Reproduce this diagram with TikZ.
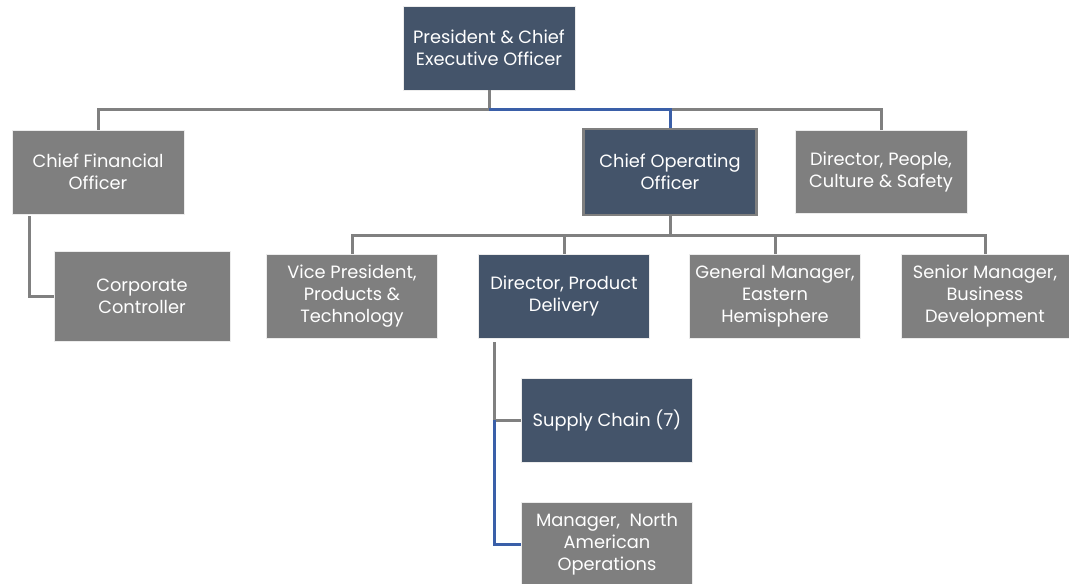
\documentclass[tikz,border=0pt]{standalone}
\usepackage{fontspec}
\setmainfont{Poppins}
\definecolor{navy}{HTML}{44546A}
\definecolor{boxgray}{HTML}{7F7F7F}
\definecolor{linegray}{HTML}{808080}
\definecolor{lineblue}{HTML}{3A5FA8}
\begin{document}
\begin{tikzpicture}[x=1pt,y=-1pt,
  box/.style={rectangle, inner sep=0pt, text=white, align=center,
    font=\fontsize{17.8}{22}\selectfont, draw=white!85!boxgray, line width=0.6pt},
  navybox/.style={box, fill=navy},
  graybox/.style={box, fill=boxgray},
  conn/.style={draw=linegray, line width=3pt},
  bconn/.style={draw=lineblue, line width=3pt}]
\useasboundingbox (0,0) rectangle (1069,584);
% nodes
\node[navybox, minimum width=172pt, minimum height=84pt] (ceo) at (489,48) {President \& Chief\\Executive Officer};
\node[graybox, minimum width=172pt, minimum height=84pt] (cfo) at (98,172) {Chief Financial\\Officer};
\node[navybox, minimum width=173pt, minimum height=86pt, draw=boxgray, line width=2.5pt] (coo) at (670,172) {Chief Operating\\Officer};
\node[graybox, minimum width=172pt, minimum height=83pt] (dpcs) at (881,172) {Director, People,\\Culture \& Safety};
\node[graybox, minimum width=176pt, minimum height=90pt] (ctrl) at (142,296) {Corporate\\Controller};
\node[graybox, minimum width=171pt, minimum height=84pt] (vp) at (352,296) {Vice President,\\Products \&\\Technology};
\node[navybox, minimum width=171pt, minimum height=84pt] (dpd) at (564,296) {Director, Product\\Delivery};
\node[graybox, minimum width=171pt, minimum height=84pt] (gm) at (775,296) {General Manager,\\Eastern\\Hemisphere};
\node[graybox, minimum width=168pt, minimum height=84pt] (sm) at (985,296) {Senior Manager,\\Business\\Development};
\node[navybox, minimum width=171pt, minimum height=84pt] (sc) at (607,420) {Supply Chain (7)};
\node[graybox, minimum width=171pt, minimum height=84pt] (mna) at (607,544) {Manager,\ \ North\\American\\Operations};
% bus coordinates
\coordinate (bus1) at (489,109);
\coordinate (bus2) at (670,109);
\coordinate (bus3) at (670,235);
\coordinate (c1) at (29,216);
\coordinate (d1) at (494,342);
% connectors
\draw[conn] (ceo.south) -- (bus1);
\draw[conn] (cfo.north) |- (bus1);
\draw[conn] (dpcs.north) |- (bus2);
\draw[bconn] (bus1) -| (coo.north);
\draw[conn] (coo.south) -- (bus3);
\draw[conn] (vp.north) |- (bus3);
\draw[conn] (sm.north) |- (bus3);
\draw[conn] (dpd.north) -- (dpd.north |- bus3);
\draw[conn] (gm.north) -- (gm.north |- bus3);
\draw[conn] (c1) |- (ctrl.west);
\draw[conn] (d1) |- (sc.west);
\draw[bconn] (d1 |- sc.west) |- (mna.west);
\end{tikzpicture}
\end{document}
